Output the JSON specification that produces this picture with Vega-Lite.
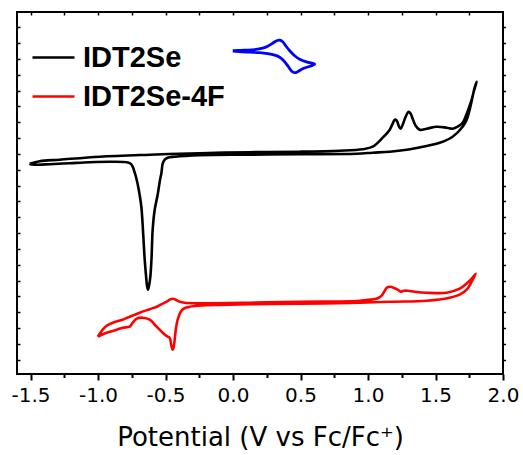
{
  "$schema": "https://vega.github.io/schema/vega-lite/v6.json",
  "width": 486,
  "height": 362,
  "autosize": "none",
  "padding": {"left": 17, "top": 12, "right": 20, "bottom": 81},
  "config": {
    "view": {"stroke": "#000000", "strokeWidth": 2},
    "axis": {"domain": false, "grid": false, "tickColor": "#000000", "labelColor": "#000000", "titleColor": "#000000"}
  },
  "datasets": {
    "cv": [
      {"s":"IDT2Se","i":1,"V":-1.506,"I":210.3},
      {"s":"IDT2Se","i":2,"V":-1.432,"I":212.8},
      {"s":"IDT2Se","i":3,"V":-1.284,"I":214.3},
      {"s":"IDT2Se","i":4,"V":-0.987,"I":217.3},
      {"s":"IDT2Se","i":5,"V":-0.617,"I":219.3},
      {"s":"IDT2Se","i":6,"V":-0.247,"I":220.8},
      {"s":"IDT2Se","i":7,"V":0.124,"I":221.8},
      {"s":"IDT2Se","i":8,"V":0.494,"I":222.3},
      {"s":"IDT2Se","i":9,"V":0.790,"I":223.3},
      {"s":"IDT2Se","i":10,"V":0.961,"I":224.8},
      {"s":"IDT2Se","i":11,"V":1.035,"I":227.3},
      {"s":"IDT2Se","i":12,"V":1.109,"I":236.3},
      {"s":"IDT2Se","i":13,"V":1.161,"I":244.3},
      {"s":"IDT2Se","i":14,"V":1.183,"I":250.3},
      {"s":"IDT2Se","i":15,"V":1.198,"I":254.3},
      {"s":"IDT2Se","i":16,"V":1.213,"I":253.3},
      {"s":"IDT2Se","i":17,"V":1.227,"I":248.3},
      {"s":"IDT2Se","i":18,"V":1.242,"I":245.3},
      {"s":"IDT2Se","i":19,"V":1.257,"I":249.3},
      {"s":"IDT2Se","i":20,"V":1.279,"I":257.3},
      {"s":"IDT2Se","i":21,"V":1.301,"I":262.3},
      {"s":"IDT2Se","i":22,"V":1.316,"I":260.3},
      {"s":"IDT2Se","i":23,"V":1.331,"I":255.3},
      {"s":"IDT2Se","i":24,"V":1.353,"I":248.3},
      {"s":"IDT2Se","i":25,"V":1.383,"I":244.3},
      {"s":"IDT2Se","i":26,"V":1.435,"I":245.3},
      {"s":"IDT2Se","i":27,"V":1.509,"I":247.3},
      {"s":"IDT2Se","i":28,"V":1.583,"I":246.3},
      {"s":"IDT2Se","i":29,"V":1.627,"I":245.3},
      {"s":"IDT2Se","i":30,"V":1.664,"I":247.3},
      {"s":"IDT2Se","i":31,"V":1.701,"I":251.3},
      {"s":"IDT2Se","i":32,"V":1.731,"I":260.3},
      {"s":"IDT2Se","i":33,"V":1.753,"I":268.3},
      {"s":"IDT2Se","i":34,"V":1.768,"I":274.3},
      {"s":"IDT2Se","i":35,"V":1.783,"I":282.3},
      {"s":"IDT2Se","i":36,"V":1.805,"I":292.3},
      {"s":"IDT2Se","i":37,"V":1.790,"I":286.3},
      {"s":"IDT2Se","i":38,"V":1.753,"I":264.3},
      {"s":"IDT2Se","i":39,"V":1.731,"I":254.3},
      {"s":"IDT2Se","i":40,"V":1.701,"I":247.3},
      {"s":"IDT2Se","i":41,"V":1.627,"I":237.3},
      {"s":"IDT2Se","i":42,"V":1.531,"I":231.3},
      {"s":"IDT2Se","i":43,"V":1.405,"I":227.3},
      {"s":"IDT2Se","i":44,"V":1.287,"I":224.3},
      {"s":"IDT2Se","i":45,"V":1.161,"I":222.3},
      {"s":"IDT2Se","i":46,"V":1.035,"I":221.3},
      {"s":"IDT2Se","i":47,"V":0.916,"I":220.3},
      {"s":"IDT2Se","i":48,"V":0.494,"I":219.8},
      {"s":"IDT2Se","i":49,"V":0.124,"I":219.3},
      {"s":"IDT2Se","i":50,"V":-0.247,"I":218.8},
      {"s":"IDT2Se","i":51,"V":-0.432,"I":217.3},
      {"s":"IDT2Se","i":52,"V":-0.484,"I":216.3},
      {"s":"IDT2Se","i":53,"V":-0.506,"I":214.3},
      {"s":"IDT2Se","i":54,"V":-0.521,"I":210.3},
      {"s":"IDT2Se","i":55,"V":-0.530,"I":201.3},
      {"s":"IDT2Se","i":56,"V":-0.543,"I":192.3},
      {"s":"IDT2Se","i":57,"V":-0.558,"I":179.3},
      {"s":"IDT2Se","i":58,"V":-0.580,"I":164.3},
      {"s":"IDT2Se","i":59,"V":-0.595,"I":144.3},
      {"s":"IDT2Se","i":60,"V":-0.604,"I":114.3},
      {"s":"IDT2Se","i":61,"V":-0.613,"I":96.3},
      {"s":"IDT2Se","i":62,"V":-0.622,"I":88.3},
      {"s":"IDT2Se","i":63,"V":-0.630,"I":84.3},
      {"s":"IDT2Se","i":64,"V":-0.637,"I":88.3},
      {"s":"IDT2Se","i":65,"V":-0.643,"I":96.3},
      {"s":"IDT2Se","i":66,"V":-0.654,"I":114.3},
      {"s":"IDT2Se","i":67,"V":-0.665,"I":139.3},
      {"s":"IDT2Se","i":68,"V":-0.679,"I":167.3},
      {"s":"IDT2Se","i":69,"V":-0.698,"I":184.3},
      {"s":"IDT2Se","i":70,"V":-0.717,"I":196.3},
      {"s":"IDT2Se","i":71,"V":-0.728,"I":201.3},
      {"s":"IDT2Se","i":72,"V":-0.743,"I":207.3},
      {"s":"IDT2Se","i":73,"V":-0.758,"I":210.3},
      {"s":"IDT2Se","i":74,"V":-0.787,"I":211.8},
      {"s":"IDT2Se","i":75,"V":-0.913,"I":212.3},
      {"s":"IDT2Se","i":76,"V":-1.062,"I":211.8},
      {"s":"IDT2Se","i":77,"V":-1.210,"I":210.8},
      {"s":"IDT2Se","i":78,"V":-1.358,"I":209.8},
      {"s":"IDT2Se","i":79,"V":-1.447,"I":209.3},
      {"s":"IDT2Se","i":80,"V":-1.499,"I":209.8},
      {"s":"IDT2Se","i":81,"V":-1.506,"I":210.3},
      {"s":"IDT2Se-4F","i":1,"V":-1.002,"I":37.3},
      {"s":"IDT2Se-4F","i":2,"V":-0.987,"I":40.3},
      {"s":"IDT2Se-4F","i":3,"V":-0.965,"I":44.3},
      {"s":"IDT2Se-4F","i":4,"V":-0.936,"I":48.3},
      {"s":"IDT2Se-4F","i":5,"V":-0.891,"I":51.3},
      {"s":"IDT2Se-4F","i":6,"V":-0.817,"I":54.3},
      {"s":"IDT2Se-4F","i":7,"V":-0.765,"I":57.3},
      {"s":"IDT2Se-4F","i":8,"V":-0.691,"I":61.3},
      {"s":"IDT2Se-4F","i":9,"V":-0.617,"I":64.8},
      {"s":"IDT2Se-4F","i":10,"V":-0.565,"I":67.3},
      {"s":"IDT2Se-4F","i":11,"V":-0.521,"I":70.3},
      {"s":"IDT2Se-4F","i":12,"V":-0.491,"I":72.3},
      {"s":"IDT2Se-4F","i":13,"V":-0.469,"I":74.3},
      {"s":"IDT2Se-4F","i":14,"V":-0.447,"I":75.3},
      {"s":"IDT2Se-4F","i":15,"V":-0.424,"I":74.3},
      {"s":"IDT2Se-4F","i":16,"V":-0.395,"I":72.3},
      {"s":"IDT2Se-4F","i":17,"V":-0.358,"I":71.3},
      {"s":"IDT2Se-4F","i":18,"V":-0.247,"I":70.8},
      {"s":"IDT2Se-4F","i":19,"V":0.124,"I":71.3},
      {"s":"IDT2Se-4F","i":20,"V":0.494,"I":72.3},
      {"s":"IDT2Se-4F","i":21,"V":0.939,"I":73.3},
      {"s":"IDT2Se-4F","i":22,"V":1.072,"I":75.8},
      {"s":"IDT2Se-4F","i":23,"V":1.101,"I":78.3},
      {"s":"IDT2Se-4F","i":24,"V":1.124,"I":83.3},
      {"s":"IDT2Se-4F","i":25,"V":1.139,"I":86.3},
      {"s":"IDT2Se-4F","i":26,"V":1.161,"I":87.3},
      {"s":"IDT2Se-4F","i":27,"V":1.198,"I":85.8},
      {"s":"IDT2Se-4F","i":28,"V":1.220,"I":84.3},
      {"s":"IDT2Se-4F","i":29,"V":1.242,"I":82.3},
      {"s":"IDT2Se-4F","i":30,"V":1.264,"I":83.3},
      {"s":"IDT2Se-4F","i":31,"V":1.294,"I":83.3},
      {"s":"IDT2Se-4F","i":32,"V":1.346,"I":82.3},
      {"s":"IDT2Se-4F","i":33,"V":1.435,"I":81.3},
      {"s":"IDT2Se-4F","i":34,"V":1.583,"I":81.3},
      {"s":"IDT2Se-4F","i":35,"V":1.679,"I":85.3},
      {"s":"IDT2Se-4F","i":36,"V":1.738,"I":91.3},
      {"s":"IDT2Se-4F","i":37,"V":1.768,"I":95.3},
      {"s":"IDT2Se-4F","i":38,"V":1.798,"I":100.3},
      {"s":"IDT2Se-4F","i":39,"V":1.768,"I":92.3},
      {"s":"IDT2Se-4F","i":40,"V":1.731,"I":84.3},
      {"s":"IDT2Se-4F","i":41,"V":1.679,"I":79.3},
      {"s":"IDT2Se-4F","i":42,"V":1.605,"I":76.3},
      {"s":"IDT2Se-4F","i":43,"V":1.435,"I":73.3},
      {"s":"IDT2Se-4F","i":44,"V":1.183,"I":72.3},
      {"s":"IDT2Se-4F","i":45,"V":0.939,"I":71.3},
      {"s":"IDT2Se-4F","i":46,"V":0.494,"I":70.3},
      {"s":"IDT2Se-4F","i":47,"V":0.124,"I":69.8},
      {"s":"IDT2Se-4F","i":48,"V":-0.269,"I":68.3},
      {"s":"IDT2Se-4F","i":49,"V":-0.336,"I":66.8},
      {"s":"IDT2Se-4F","i":50,"V":-0.365,"I":65.3},
      {"s":"IDT2Se-4F","i":51,"V":-0.387,"I":62.3},
      {"s":"IDT2Se-4F","i":52,"V":-0.410,"I":54.3},
      {"s":"IDT2Se-4F","i":53,"V":-0.424,"I":44.3},
      {"s":"IDT2Se-4F","i":54,"V":-0.432,"I":34.3},
      {"s":"IDT2Se-4F","i":55,"V":-0.439,"I":27.3},
      {"s":"IDT2Se-4F","i":56,"V":-0.447,"I":24.3},
      {"s":"IDT2Se-4F","i":57,"V":-0.458,"I":29.3},
      {"s":"IDT2Se-4F","i":58,"V":-0.469,"I":36.3},
      {"s":"IDT2Se-4F","i":59,"V":-0.484,"I":37.3},
      {"s":"IDT2Se-4F","i":60,"V":-0.521,"I":41.3},
      {"s":"IDT2Se-4F","i":61,"V":-0.565,"I":47.3},
      {"s":"IDT2Se-4F","i":62,"V":-0.617,"I":54.3},
      {"s":"IDT2Se-4F","i":63,"V":-0.669,"I":56.3},
      {"s":"IDT2Se-4F","i":64,"V":-0.713,"I":55.3},
      {"s":"IDT2Se-4F","i":65,"V":-0.743,"I":51.3},
      {"s":"IDT2Se-4F","i":66,"V":-0.765,"I":47.3},
      {"s":"IDT2Se-4F","i":67,"V":-0.817,"I":46.3},
      {"s":"IDT2Se-4F","i":68,"V":-0.861,"I":44.3},
      {"s":"IDT2Se-4F","i":69,"V":-0.936,"I":41.3},
      {"s":"IDT2Se-4F","i":70,"V":-0.980,"I":38.8},
      {"s":"IDT2Se-4F","i":71,"V":-1.002,"I":37.3}
    ],
    "fc": [
      {"i":1,"V":-0.002,"I":323.3},
      {"i":2,"V":0.087,"I":323.8},
      {"i":3,"V":0.161,"I":324.3},
      {"i":4,"V":0.220,"I":325.8},
      {"i":5,"V":0.257,"I":327.8},
      {"i":6,"V":0.294,"I":330.8},
      {"i":7,"V":0.324,"I":333.3},
      {"i":8,"V":0.346,"I":333.8},
      {"i":9,"V":0.368,"I":332.3},
      {"i":10,"V":0.390,"I":328.3},
      {"i":11,"V":0.420,"I":323.3},
      {"i":12,"V":0.457,"I":318.3},
      {"i":13,"V":0.494,"I":314.8},
      {"i":14,"V":0.539,"I":312.3},
      {"i":15,"V":0.583,"I":310.8},
      {"i":16,"V":0.605,"I":309.8},
      {"i":17,"V":0.583,"I":308.3},
      {"i":18,"V":0.546,"I":306.8},
      {"i":19,"V":0.509,"I":304.8},
      {"i":20,"V":0.479,"I":302.3},
      {"i":21,"V":0.457,"I":301.3},
      {"i":22,"V":0.435,"I":302.8},
      {"i":23,"V":0.405,"I":308.3},
      {"i":24,"V":0.376,"I":313.3},
      {"i":25,"V":0.346,"I":316.8},
      {"i":26,"V":0.309,"I":318.8},
      {"i":27,"V":0.257,"I":320.3},
      {"i":28,"V":0.198,"I":321.3},
      {"i":29,"V":0.124,"I":321.8},
      {"i":30,"V":0.050,"I":322.3},
      {"i":31,"V":-0.002,"I":322.8}
    ]
  },
  "layer": [
    {
      "data": {"name": "cv"},
      "transform": [{"filter": "datum.s === 'IDT2Se'"}],
      "mark": {"type": "line", "strokeWidth": 2.6, "strokeJoin": "round", "interpolate": "catmull-rom"},
      "encoding": {
        "x": {"field": "V", "type": "quantitative",
          "scale": {"domain": [-1.6, 2.0], "nice": false, "zero": false},
          "axis": {"orient": "bottom", "values": [-1.5, -1.0, -0.5, 0.0, 0.5, 1.0, 1.5, 2.0], "format": ".1f",
            "labelExpr": "replace(datum.label, '\u2212', '-')",
            "tickSize": 6, "tickWidth": 2, "labelFont": "DejaVu Sans", "labelFontSize": 20, "labelPadding": 5,
            "labelFlush": false, "labelOverlap": false,
            "title": "Potential (V vs Fc/Fc⁺)", "titleFont": "DejaVu Sans", "titleFontSize": 26, "titleFontWeight": "normal", "titlePadding": 19}},
        "y": {"field": "I", "type": "quantitative",
          "scale": {"domain": [0, 362], "nice": false, "zero": false},
          "axis": {"orient": "left", "values": [14.3,30.13,45.96,61.79,77.62,93.45,109.28,125.11,140.94,156.77,172.6,188.43,204.26,220.09,235.92,251.75,267.58,283.41,299.24,315.07,330.9,346.73],
            "labels": false, "tickSize": -3, "tickWidth": 1.5, "title": null}},
        "color": {"field": "s", "type": "nominal",
          "scale": {"domain": ["IDT2Se", "IDT2Se-4F"], "range": ["#000000", "#ff0000"]},
          "legend": {"orient": "none", "legendX": 14, "legendY": 23, "title": null, "padding": 0,
            "symbolType": "stroke", "symbolSize": 1764, "symbolStrokeWidth": 2.5,
            "labelFont": "Liberation Sans", "labelFontWeight": "bold", "labelFontSize": 29, "labelColor": "#000000",
            "labelOffset": 7, "rowPadding": 1}},
        "order": {"field": "i", "type": "quantitative"}
      }
    },
    {
      "data": {"name": "cv"},
      "transform": [{"filter": "datum.s === 'IDT2Se-4F'"}],
      "mark": {"type": "line", "strokeWidth": 2.6, "strokeJoin": "round", "interpolate": "catmull-rom"},
      "encoding": {
        "x": {"field": "V", "type": "quantitative",
          "scale": {"domain": [-1.6, 2.0], "nice": false, "zero": false},
          "axis": {"orient": "bottom", "values": [-1.25, -0.75, -0.25, 0.25, 0.75, 1.25, 1.75],
            "labels": false, "tickSize": 3.5, "tickWidth": 2, "title": null}},
        "y": {"field": "I", "type": "quantitative",
          "scale": {"domain": [0, 362], "nice": false, "zero": false},
          "axis": {"orient": "right", "values": [14.3,30.13,45.96,61.79,77.62,93.45,109.28,125.11,140.94,156.77,172.6,188.43,204.26,220.09,235.92,251.75,267.58,283.41,299.24,315.07,330.9,346.73],
            "labels": false, "tickSize": 2.5, "tickWidth": 1.5, "title": null}},
        "color": {"field": "s", "type": "nominal",
          "scale": {"domain": ["IDT2Se", "IDT2Se-4F"], "range": ["#000000", "#ff0000"]},
          "legend": {"orient": "none", "legendX": 14, "legendY": 23, "title": null, "padding": 0,
            "symbolType": "stroke", "symbolSize": 1764, "symbolStrokeWidth": 2.5,
            "labelFont": "Liberation Sans", "labelFontWeight": "bold", "labelFontSize": 29, "labelColor": "#000000",
            "labelOffset": 7, "rowPadding": 1}},
        "order": {"field": "i", "type": "quantitative"}
      }
    },
    {
      "data": {"name": "fc"},
      "mark": {"type": "line", "strokeWidth": 2.8, "strokeJoin": "round", "color": "#0000ff", "interpolate": "catmull-rom"},
      "encoding": {
        "x": {"field": "V", "type": "quantitative",
          "scale": {"domain": [-1.6, 2.0], "nice": false, "zero": false},
          "axis": {"orient": "top", "values": [-1.5,-1.25,-1.0,-0.75,-0.5,-0.25,0.0,0.25,0.5,0.75,1.0,1.25,1.5,1.75],
            "labels": false, "tickSize": -3, "tickWidth": 1.5, "title": null}},
        "y": {"field": "I", "type": "quantitative",
          "scale": {"domain": [0, 362], "nice": false, "zero": false}, "axis": null},
        "order": {"field": "i", "type": "quantitative"}
      }
    }
  ],
  "resolve": {"axis": {"x": "independent", "y": "independent"}}
}
